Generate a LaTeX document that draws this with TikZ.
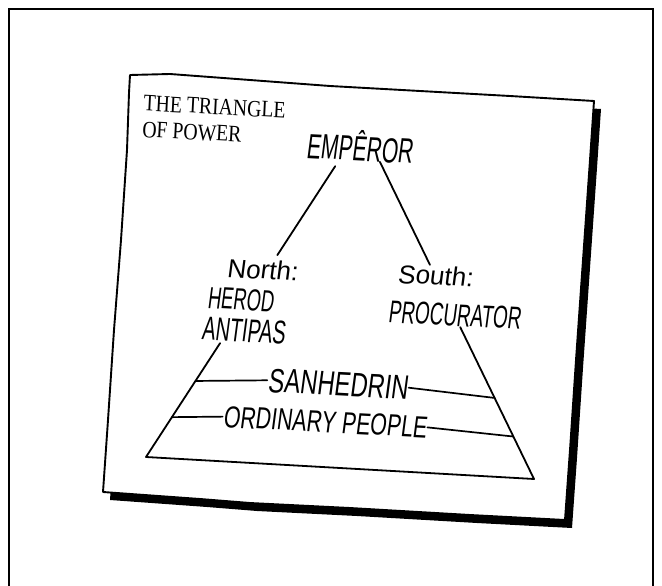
\documentclass[tikz,border=0pt]{standalone}
\usepackage{fontspec}
\setmainfont{Liberation Serif}
\newfontfamily\titleFont[FakeStretch=0.84]{Liberation Serif}
\newfontfamily\handFont[FakeStretch=0.7,FakeSlant=0.08]{Liberation Sans}
\newfontfamily\handNarrow[FakeStretch=0.6,FakeSlant=0.08]{Liberation Sans}
\newfontfamily\handWide[FakeSlant=0.08]{Liberation Sans}
\usetikzlibrary{calc}
\definecolor{tpInk}{HTML}{000000}
\definecolor{tpPaper}{HTML}{FFFFFF}
\pgfdeclarelayer{background}
\pgfsetlayers{background,main}
\tikzset{
  frameLine/.style={line width=2.3pt, draw=tpInk},
  cardEdge/.style={line width=1.9pt, draw=tpInk, fill=tpPaper, line join=round},
  cardShadow/.style={fill=tpInk},
  sideLine/.style={line width=1.8pt, draw=tpInk, line cap=round, line join=round},
  layerLine/.style={line width=1.7pt, draw=tpInk, line cap=round},
  titleText/.style={font=\titleFont\fontsize{23.5}{26.5}\selectfont, align=left, rotate=-3,
    inner sep=0pt, text=tpInk},
  handLabel/.style={font=\handFont\fontsize{30}{30}\selectfont, rotate=-3,
    inner sep=0.5pt, text=tpInk},
  handLower/.style={handLabel, font=\handWide\fontsize{26}{26}\selectfont},
}

\begin{document}
\begin{tikzpicture}[x=1pt,y=-1pt]
  \useasboundingbox (0,0) rectangle (662,586);
  \draw[frameLine] (9,586) -- (9,9) -- (653,9) -- (653,586);

  % card and its drop shadow
  \begin{pgfonlayer}{background}
    \fill[cardShadow, shift={(7,8)}] (130,75) -- (170,74) -- (250,80) -- (330,86)
      -- (420,91) -- (510,96) -- (594,101) -- (590,160) -- (583,260) -- (576,360)
      -- (570,450) -- (565,520) -- (470,515) -- (350,508) -- (250,503) -- (200,499)
      -- (103,492) -- (108,420) -- (114,330) -- (121,240) -- (127,150) -- (129,93) -- cycle;
    \draw[cardEdge] (130,75) -- (170,74) -- (250,80) -- (330,86)
      -- (420,91) -- (510,96) -- (594,101) -- (590,160) -- (583,260) -- (576,360)
      -- (570,450) -- (565,520) -- (470,515) -- (350,508) -- (250,503) -- (200,499)
      -- (103,492) -- (108,420) -- (114,330) -- (121,240) -- (127,150) -- (129,93) -- cycle;
  \end{pgfonlayer}

  \node[titleText] (title) at (214,120) {THE TRIANGLE\\OF POWER};

  \node[handLabel, anchor=base, font=\handNarrow\fontsize{35}{35}\selectfont]
    (emperor) at (359,161) {EMPÊROR};
  \node[handLower, anchor=base] (north) at (262,279) {North:};
  \node[handLabel, anchor=base, font=\handNarrow\fontsize{30.5}{30.5}\selectfont]
    (herod) at (240,310) {HEROD};
  \node[handLabel, anchor=base, font=\handNarrow\fontsize{33}{33}\selectfont]
    (antipas) at (243,342) {ANTIPAS};
  \node[handLower, anchor=base] (south) at (435,285) {South:};
  \node[handLabel, anchor=base, font=\handNarrow\fontsize{31.5}{31.5}\selectfont]
    (procurator) at (454,326) {PROCURATOR};
  \node[handLabel, font=\handFont\fontsize{34}{34}\selectfont]
    (sanhedrin) at (338,384) {SANHEDRIN};
  \node[handLabel, font=\handFont\fontsize{30.5}{30.5}\selectfont]
    (people) at (325,422) {ORDINARY PEOPLE};

  % triangle corners and the points where its sides break
  \coordinate (apex) at (362,125);
  \coordinate (baseL) at (146,457);
  \coordinate (baseR) at (534,479);
  \coordinate (lEmp) at ($(apex)!0.124!(baseL)$);
  \coordinate (lNorth) at ($(apex)!0.392!(baseL)$);
  \coordinate (lAntipas) at ($(apex)!0.657!(baseL)$);
  \coordinate (lSan) at ($(apex)!0.771!(baseL)$);
  \coordinate (lPeople) at ($(apex)!0.88!(baseL)$);
  \coordinate (rEmp) at ($(apex)!0.104!(baseR)$);
  \coordinate (rSouth) at ($(apex)!0.395!(baseR)$);
  \coordinate (rProc) at ($(apex)!0.571!(baseR)$);
  \coordinate (rSan) at ($(apex)!0.771!(baseR)$);
  \coordinate (rPeople) at ($(apex)!0.88!(baseR)$);

  \draw[sideLine] (lEmp) -- (lNorth);
  \draw[sideLine] (rEmp) -- (rSouth);
  \draw[sideLine] (lAntipas) -- (baseL) -- (baseR) -- (rProc);
  \draw[layerLine] (lSan) -- (sanhedrin.west);
  \draw[layerLine] (sanhedrin.east) -- (rSan);
  \draw[layerLine] (lPeople) -- (people.west);
  \draw[layerLine] (people.east) -- (rPeople);
\end{tikzpicture}
\end{document}
